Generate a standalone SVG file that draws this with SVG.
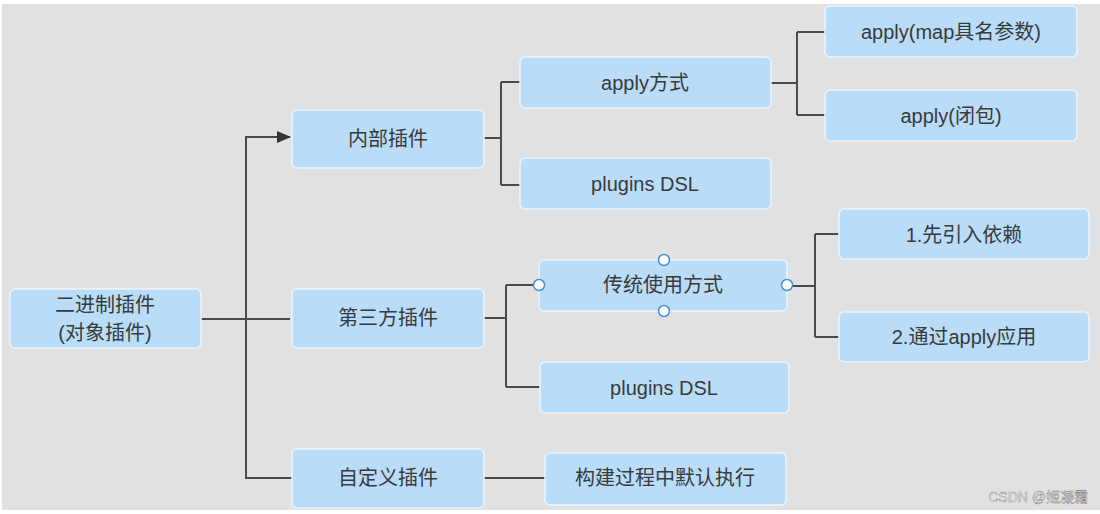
<svg xmlns="http://www.w3.org/2000/svg" width="1100" height="514" viewBox="0 0 1100 514">
<style>
.n{fill:#b9ddf8;stroke:#eaf4fc;stroke-width:1.5}
.t{font-family:"Liberation Sans","Noto Sans CJK SC",sans-serif;font-size:20px;fill:#3a3a3a;text-anchor:middle;dominant-baseline:central}
.c{fill:none;stroke:#4a4a4a;stroke-width:2}
.h{fill:#ffffff;stroke:#4a90d9;stroke-width:1.5}
</style>
<defs>
<marker id="ar" markerWidth="14" markerHeight="12" refX="13" refY="6" orient="auto" markerUnits="userSpaceOnUse">
<path d="M0,0 L14,6 L0,12 Z" fill="#333"/>
</marker>
</defs>
<rect x="0" y="0" width="1100" height="514" fill="#ffffff"/>
<rect x="2" y="4" width="1098" height="506" fill="#e1e1e1"/>
<g id="connectors">
<path class="c" d="M201,319 H290"/>
<path class="c" d="M246,319 V137 H290" marker-end="url(#ar)"/>
<path class="c" d="M246,319 V478 H292"/>
<path class="c" d="M484,138 H501 M501,82 V185 M501,82 H520 M501,185 H520"/>
<path class="c" d="M771,83 H797 M797,32 V115 M797,32 H825 M797,115 H825"/>
<path class="c" d="M484,318 H506 M506,285 V387 M506,285 H539 M506,387 H540"/>
<path class="c" d="M787,286 H815 M815,234 V337 M815,234 H839 M815,337 H839"/>
<path class="c" d="M484,478 H545"/>
</g>
<g id="root"><rect class="n" x="10" y="289" width="191" height="59" rx="5"/><text class="t" x="105" y="305">二进制插件</text><text class="t" x="105" y="333">(对象插件)</text></g>
<g id="inner"><rect class="n" x="292" y="110" width="192" height="58" rx="5"/><text class="t" x="388" y="139">内部插件</text></g>
<g id="third"><rect class="n" x="292" y="289" width="192" height="59" rx="5"/><text class="t" x="388" y="318">第三方插件</text></g>
<g id="custom"><rect class="n" x="292" y="449" width="192" height="59" rx="5"/><text class="t" x="388" y="478">自定义插件</text></g>
<g id="applyway"><rect class="n" x="520" y="57" width="251" height="51" rx="5"/><text class="t" x="645" y="83">apply方式</text></g>
<g id="dsl1"><rect class="n" x="520" y="158" width="251" height="51" rx="5"/><text class="t" x="645" y="184">plugins DSL</text></g>
<g id="applymap"><rect class="n" x="825" y="6" width="252" height="51" rx="5"/><text class="t" x="951" y="32">apply(map具名参数)</text></g>
<g id="applyclosure"><rect class="n" x="825" y="90" width="252" height="51" rx="5"/><text class="t" x="951" y="116">apply(闭包)</text></g>
<g id="traditional"><rect class="n" x="539" y="260" width="248" height="51" rx="5"/><text class="t" x="663" y="285">传统使用方式</text>
<circle class="h" cx="539" cy="285" r="5.5"/><circle class="h" cx="787" cy="285" r="5.5"/><circle class="h" cx="664" cy="260" r="5.5"/><circle class="h" cx="664" cy="311" r="5.5"/></g>
<g id="dsl2"><rect class="n" x="540" y="362" width="249" height="51" rx="5"/><text class="t" x="664" y="388">plugins DSL</text></g>
<g id="dep"><rect class="n" x="839" y="209" width="250" height="50" rx="5"/><text class="t" x="964" y="235">1.先引入依赖</text></g>
<g id="viaapply"><rect class="n" x="839" y="312" width="250" height="50" rx="5"/><text class="t" x="964" y="337">2.通过apply应用</text></g>
<g id="build"><rect class="n" x="545" y="453" width="241" height="52" rx="5"/><text class="t" x="665" y="478">构建过程中默认执行</text></g>
<text x="1088" y="497" font-family="Liberation Sans,'Noto Sans CJK SC',sans-serif" font-size="14" fill="#f4f4f4" stroke="#777" stroke-width="0.4" text-anchor="end" dominant-baseline="central">CSDN @姬凝霜</text>
</svg>
